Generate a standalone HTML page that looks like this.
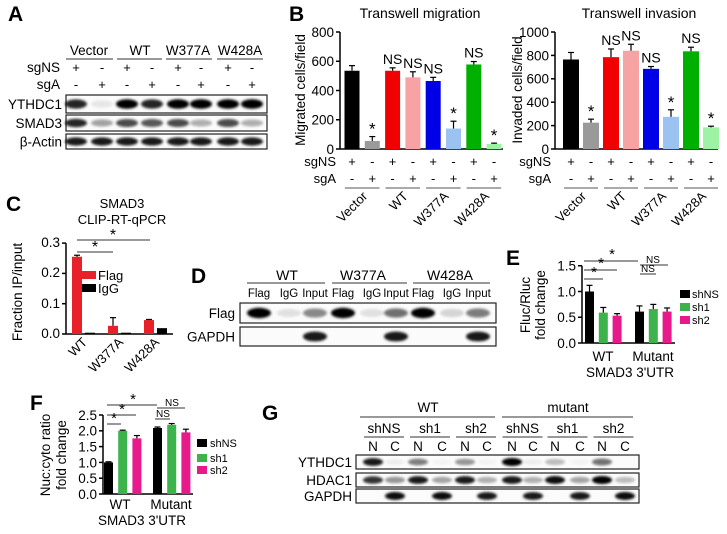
<!DOCTYPE html>
<html><head><meta charset="utf-8"><style>
html,body{margin:0;padding:0;background:#fff}
body{position:relative;width:727px;height:534px;overflow:hidden}
svg{display:block;font-family:"Liberation Sans",Arial,sans-serif}
.ctick{position:absolute;left:30px;width:30px;text-align:right;font:13.5px "Liberation Sans",Arial,sans-serif;line-height:14px;color:#000;z-index:5}
</style></head><body>
<div class="ctick" style="top:236px">0.3</div>
<div class="ctick" style="top:266px">0.2</div>
<div class="ctick" style="top:297px">0.1</div>
<div class="ctick" style="top:327px">0.0</div>
<svg id="fig" width="727" height="534" viewBox="0 0 727 534" xmlns="http://www.w3.org/2000/svg">
<defs><filter id="bl" x="-50%" y="-100%" width="200%" height="300%"><feGaussianBlur stdDeviation="1.2"/></filter></defs>
<g font-weight="bold" font-size="21">
<text x="8" y="21">A</text>
<text x="289" y="21">B</text>
<text x="6" y="211">C</text>
<text x="191" y="283">D</text>
<text x="506" y="265">E</text>
<text x="30" y="410">F</text>
<text x="262" y="420">G</text>
</g>
<g id="blots"></g>
<g id="charts"></g>
</svg>
<script>
const bCats = ["Vector sgNS","Vector sgA","WT sgNS","WT sgA","W377A sgNS","W377A sgA","W428A sgNS","W428A sgA"];
const bMigVals = [535,55,535,490,465,140,578,35];
const bMigErr = [35,30,20,38,25,50,20,5];
const bInvVals = [765,225,785,840,685,275,835,185];
const bInvErr = [60,30,70,55,20,60,35,10];
const bMarks = ["","*","NS","NS","NS","*","NS","*"];
const bMigTicks = [0,200,400,600,800];
const bInvTicks = [0,200,400,600,800,1000];
const bGroups = ["Vector","WT","W377A","W428A"];
const cCats = ["WT","W377A","W428A"];
const cFlag = [0.255,0.027,0.046];
const cFlagErr = [0.005,0.027,0.002];
const cIgG = [0.001,0.001,0.016];
const cIgGErr = [0.0005,0.0005,0.002];
const cTicks = [0,0.1,0.2,0.3];
const eCats = ["WT","Mutant"];
const eShNS = [1.0,0.61];
const eSh1 = [0.59,0.66];
const eSh2 = [0.53,0.61];
const eErrNS = [0.12,0.11];
const eErr1 = [0.1,0.09];
const eErr2 = [0.04,0.07];
const eTicks = [0,0.5,1.0,1.5];
const fShNS = [1.0,2.09];
const fSh1 = [2.0,2.19];
const fSh2 = [1.76,1.95];
const fErrNS = [0.02,0.03];
const fErr1 = [0.02,0.04];
const fErr2 = [0.09,0.1];
const fTicks = [0,0.5,1.0,1.5,2.0,2.5];

const NS="http://www.w3.org/2000/svg";
const charts=document.getElementById('charts');
const blots=document.getElementById('blots');
function mk(tag,parent){const e=document.createElementNS(NS,tag);parent.appendChild(e);return e;}
function line(p,x1,y1,x2,y2,w,c){const l=mk('line',p);l.setAttribute('x1',x1);l.setAttribute('y1',y1);l.setAttribute('x2',x2);l.setAttribute('y2',y2);l.setAttribute('stroke',c||'#000');l.setAttribute('stroke-width',w||1.3);return l;}
function txt(p,x,y,s,size,anchor,extra){const t=mk('text',p);t.setAttribute('x',x);t.setAttribute('y',y);t.setAttribute('font-size',size);t.setAttribute('text-anchor',anchor||'middle');if(extra)t.setAttribute('transform',extra);t.textContent=s;return t;}
function rect(p,x,y,w,h,fill){const r=mk('rect',p);r.setAttribute('x',x);r.setAttribute('y',y);r.setAttribute('width',w);r.setAttribute('height',h);r.setAttribute('fill',fill);return r;}
function errbar(p,cx,yTop,yErr){line(p,cx,yTop,cx,yErr,1.2);line(p,cx-3,yErr,cx+3,yErr,1.2);}
function yaxis(p,x,ticks,ys,fmt,size,noLabels){
  line(p,x,ys(ticks[0])+0.5,x,ys(ticks[ticks.length-1]),1.5);
  ticks.forEach((t,i)=>{line(p,x-4,ys(t),x,ys(t),1.5);if(noLabels)return;const l=txt(p,x-6,ys(t)+size*0.36,fmt(t,i),size,'end');
  
  });
}

const bColors=["#000","#9a9a9a","#f00000","#f7a3a3","#0000e6","#9cc2f2","#00b000","#9ef2a4"];
function drawB(p,ax,x0,step,bw,vals,errs,ticks,maxV,xEnd,title,ytitle,titleX,ytX){
  const ys=v=>149-v*(117/maxV);
  yaxis(p,ax,ticks,ys,t=>String(t),13.5);
  line(p,ax,149,xEnd,149,1.5);
  const t=txt(p,titleX,18,title,14);
  
  
  const yt=txt(p,ytX,90,ytitle,13.5,'middle','rotate(-90 '+ytX+' 90)');
  
  
  vals.forEach((v,i)=>{
    const cx=x0+i*step;
    const r=rect(p,cx-bw/2,ys(v),bw,149-ys(v),bColors[i]);
    
    
    errbar(p,cx,ys(v),ys(v+errs[i]));
    if(bMarks[i]){const m=txt(p,cx,ys(v+errs[i])-(bMarks[i]=='*'?2:4),bMarks[i],bMarks[i]=='*'?17:14);
      
      }
    const a=txt(p,cx,166,i%2==0?'+':'-',13);
    
    
    const b=txt(p,cx,183,i%2==0?'-':'+',13);
    
    
  });
  const l1=txt(p,ax-4,166,'sgNS',13,'end');
  const l2=txt(p,ax-4,183,'sgA',13,'end');
  bGroups.forEach((g,k)=>{
    const c=x0+(2*k+0.5)*step;
    line(p,c-step*0.85,188,c+step*0.85,188,1,'#555');
    const gl=txt(p,c+6,197,g,13,'end','rotate(-45 '+(c+6)+' 197)');
    
    
  });
}
const gB1=mk('g',charts);
drawB(gB1,340,352,20.3,15,bMigVals,bMigErr,bMigTicks,800,503,'Transwell migration','Migrated cells/field',420,305);
const gB2=mk('g',charts);
drawB(gB2,555,571,20,16,bInvVals,bInvErr,bInvTicks,1000,718,'Transwell invasion','Invaded cells/field',639,522);

(function(){
  const p=mk('g',charts);
  const ys=v=>334-v*303;
  yaxis(p,66,cTicks,ys,null,13.5,true);
  line(p,66,334,173,334,1.5);
  txt(p,122,208,'SMAD3',13);
  txt(p,122,224,'CLIP-RT-qPCR',13);
  const yt=txt(p,22,292,'Fraction IP/input',13.5,'middle','rotate(-90 22 292)');
  
  
  cCats.forEach((c,i)=>{
    const fx=72+i*36;
    const r=rect(p,fx,ys(cFlag[i]),10,334-ys(cFlag[i]),'#e8202a');
    
    
    errbar(p,fx+5,ys(cFlag[i]),ys(cFlag[i]+cFlagErr[i]));
    const r2=rect(p,fx+13,ys(cIgG[i])-1,10,334-ys(cIgG[i])+1,'#000');
    
    
    const cx=fx+12;
    const gl=txt(p,cx+4,343,c,13,'end','rotate(-45 '+(cx+4)+' 343)');
    
    
  });
  rect(p,82,271,14,8,'#e8202a');txt(p,98,280,'Flag',13,'start');
  rect(p,82,284,14,8,'#000');txt(p,98,293,'IgG',13,'start');
  line(p,77,240,150,240,1,'#333');txt(p,113,240,'*',16);
  line(p,77,252,113,252,1,'#333');txt(p,95,252,'*',16);
})();

const gColors=["#000","#3cb44b","#e8198a"];
function groupChart(p,ax,ys,base,ticks,xEnd,starts,step,bw,series,errs){
  yaxis(p,ax,ticks,ys,t=>t.toFixed(1),13.5);
  line(p,ax,base,xEnd,base,1.5);
  series.forEach((s,j)=>s.forEach((v,i)=>{
    const x=starts[i]+j*step;
    const r=rect(p,x,ys(v),bw,base-ys(v),gColors[j]);
    
    
    errbar(p,x+bw/2,ys(v),ys(v+errs[j][i]));
  }));
}
(function(){
  const p=mk('g',charts);
  const ys=v=>343-v*51.5;
  groupChart(p,582,ys,343,eTicks,675,[585,635],13.8,9,[eShNS,eSh1,eSh2],[eErrNS,eErr1,eErr2]);
  txt(p,530,305,'Fluc/Rluc',13.5,'middle','rotate(-90 530 305)');
  txt(p,545,305,'fold change',13.5,'middle','rotate(-90 545 305)');
  txt(p,603,361,'WT',13.5);txt(p,653,361,'Mutant',13.5);txt(p,630,377,"SMAD3 3'UTR",13.5);
  line(p,584,261,638,261,1,'#333');txt(p,612,259,'*',15);
  line(p,584,270,617,270,1,'#333');txt(p,601,268,'*',15);
  line(p,584,279,603,279,1,'#333');txt(p,594,277,'*',15);
  line(p,640,265,668,265,1,'#333');txt(p,653,263,'NS',10);
  line(p,640,274,656,274,1,'#333');txt(p,648,272,'NS',10);
  [['shNS',294],['sh1',307],['sh2',320]].forEach((l,j)=>{rect(p,680,l[1]-4,10,8,gColors[j]);txt(p,692,l[1]+4,l[0],11,'start');});
})();

(function(){
  const p=mk('g',charts);
  const ys=v=>494-v*31.6;
  groupChart(p,103,ys,494,fTicks,193,[104,153],14.2,9,[fShNS,fSh1,fSh2],[fErrNS,fErr1,fErr2]);
  txt(p,50,455,'Nuc:cyto ratio',13.5,'middle','rotate(-90 50 455)');
  txt(p,66,455,'fold change',13.5,'middle','rotate(-90 66 455)');
  txt(p,120,509,'WT',13.5);txt(p,171,509,'Mutant',13.5);txt(p,142,525,"SMAD3 3'UTR",13.5);
  line(p,107,405,157,405,1,'#333');txt(p,133,404,'*',15);
  line(p,107,415,136,415,1,'#333');txt(p,122,414,'*',15);
  line(p,107,424,121,424,1,'#333');txt(p,114,423,'*',15);
  line(p,157,408,185,408,1,'#333');txt(p,172,406,'NS',10);
  line(p,155,419,170,419,1,'#333');txt(p,163,417,'NS',10);
  [['shNS',443],['sh1',458],['sh2',470]].forEach((l,j)=>{rect(p,197,l[1]-4,10,8,gColors[j]);txt(p,210,l[1]+4,l[0],11,'start');});
})();

function blot(name,x1,x2,y1,y2,label,lx,lanes,ints,bw){
  const g=mk('g',blots);
  
  
  const r=rect(g,x1,y1,x2-x1,y2-y1,'#fbfbfb');r.setAttribute('stroke','#222');r.setAttribute('stroke-width','1.2');
  const cy=(y1+y2)/2;
  lanes.forEach((x,i)=>{if(ints[i]<=0)return;const e=mk('ellipse',g);e.setAttribute('cx',x);e.setAttribute('cy',cy);e.setAttribute('rx',bw);e.setAttribute('ry',(y2-y1)*0.2+ints[i]*1.2);
    e.setAttribute('fill','#000');e.setAttribute('opacity',ints[i]);e.setAttribute('filter','url(#bl)');});
  txt(g,lx,cy+5,label,13.5,'end');
}
const aLanes=[76,102,127,152,178,201,228,252];
blot('blot-ythdc1',66,267,95,113,'YTHDC1',62,aLanes,[0.85,0.08,1,0.85,1,1,1,1],11);
blot('blot-smad3',66,267,115,131,'SMAD3',62,aLanes,[0.85,0.35,0.7,0.65,0.7,0.3,0.7,0.3],11);
blot('blot-actin-a',66,267,134,149,'β-Actin',62,aLanes,[0.9,0.9,0.9,0.9,0.9,0.9,0.9,0.9],11);
(function(){const g=mk('g',blots);
  [['Vector',89,66,113],['WT',140,117,162],['W377A',188,166,212],['W428A',240,217,263]].forEach(a=>{txt(g,a[1],55,a[0],13.5);line(g,a[2],59,a[3],59,1,'#333');});
  txt(g,60,72,'sgNS',13.5,'end');txt(g,60,89,'sgA',13.5,'end');
  aLanes.forEach((x,i)=>{txt(g,x,72,i%2?'-':'+',13);txt(g,x,89,i%2?'+':'-',13);});
})();
const dLanes=[259,289,315,343,372,396,423,452,478];
blot('blot-flag-d',240,496,303,323,'Flag',235,dLanes,[1,0.1,0.45,1,0.1,0.55,1,0.15,0.5],12);
blot('blot-gapdh-d',240,496,327,346,'GAPDH',235,dLanes,[0,0,0.9,0,0,0.9,0,0,0.9],12);
(function(){const g=mk('g',blots);
  [['WT',287,247,325],['W377A',363,332,407],['W428A',450,413,490]].forEach(a=>{txt(g,a[1],280,a[0],14);line(g,a[2],283,a[3],283,1,'#333');});
  ['Flag','IgG','Input','Flag','IgG','Input','Flag','IgG','Input'].forEach((s,i)=>txt(g,dLanes[i],297,s,11.5));
})();
const gLanes=[373,395,418,442,465,487,512,533,555,580,602,625];
blot('blot-ythdc1-g',356,639,455,469,'YTHDC1',352,gLanes,[0.9,0.05,0.5,0.03,0.4,0.03,1,0.05,0.25,0.03,0.55,0],10);
blot('blot-hdac1-g',356,639,473,487,'HDAC1',352,gLanes,[0.8,0.4,0.9,0.35,0.9,0.3,0.9,0.3,0.95,0.35,1,0.25],10);
blot('blot-gapdh-g',356,639,489,503,'GAPDH',352,gLanes,[0,0.95,0,0.95,0,0.9,0,0.9,0,0.9,0,0.95],10);
(function(){const g=mk('g',blots);
  txt(g,428,412,'WT',13.5);line(g,360,417,495,417,1,'#333');
  txt(g,568,412,'mutant',13.5);line(g,502,417,633,417,1,'#333');
  ['shNS','sh1','sh2','shNS','sh1','sh2'].forEach((s,k)=>{const c=(gLanes[2*k]+gLanes[2*k+1])/2;txt(g,c,433,s,13.5);line(g,c-20,437,c+20,437,1,'#333');});
  gLanes.forEach((x,i)=>txt(g,x,451,i%2?'C':'N',13.5));
})();
</script>
</body></html>
